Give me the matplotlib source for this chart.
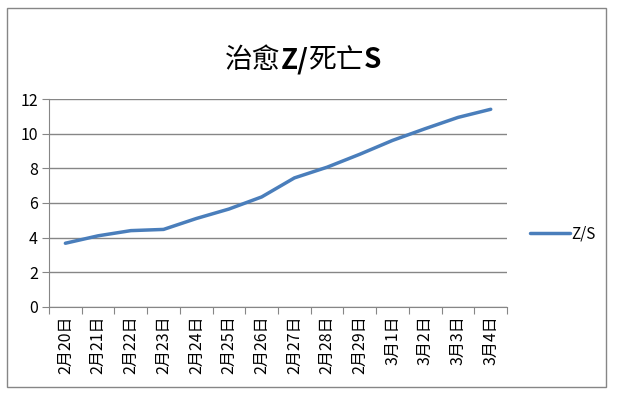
import matplotlib
matplotlib.use("Agg")
import matplotlib.pyplot as plt
from matplotlib.patches import Rectangle

plt.rcParams['font.family'] = ['Noto Sans CJK SC', 'DejaVu Sans']

# data
dates = ["2月20日", "2月21日", "2月22日", "2月23日", "2月24日", "2月25日", "2月26日",
         "2月27日", "2月28日", "2月29日", "3月1日", "3月2日", "3月3日", "3月4日"]
zs = [3.67, 4.1, 4.4, 4.47, 5.1, 5.65, 6.35, 7.45, 8.07, 8.82, 9.62, 10.3, 10.95, 11.42]
# title pieces: CJK regular, latin bold
title_parts = [("治愈", "normal"), ("Z/", "bold"), ("死亡", "normal"), ("S", "bold")]
series_name = "Z/S"

grey = "#868686"
blue = "#4a7ebb"

fig = plt.figure(figsize=(6.19, 4.03), dpi=100)
# outer chart border
fig.patches.append(Rectangle((7 / 619, 1 - 387 / 403), 599 / 619, 379 / 403,
                             transform=fig.transFigure, fill=False,
                             edgecolor=grey, linewidth=1))

ax = fig.add_axes([0.0792, 0.239, 0.740, 0.5147])
x = [i + 0.5 for i in range(len(dates))]
ax.plot(x, zs, color=blue, linewidth=2.5, label=series_name, solid_capstyle="round")

ax.set_xlim(0, len(dates))
ax.set_ylim(0, 12)
ax.set_yticks(range(0, 13, 2))
ax.set_xticks(range(len(dates) + 1))
ax.set_xticklabels([])
ax.set_xticks(x, minor=True)
ax.set_xticklabels(dates, minor=True, rotation=90, fontsize=11.5)
ax.tick_params(axis="x", which="minor", length=0, pad=6)
ax.tick_params(axis="x", which="major", length=5, color=grey)
ax.tick_params(axis="y", length=5, color=grey, labelsize=11.5, pad=3)
ax.grid(axis="y", color=grey, linewidth=1)
ax.set_axisbelow(True)
for s in ["top", "right"]:
    ax.spines[s].set_visible(False)
for s in ["left", "bottom"]:
    ax.spines[s].set_color(grey)

# title assembled from pieces so that only latin part is bold
prev = fig.text(225 / 619, 0.85, title_parts[0][0], ha="left", va="center",
                fontsize=20, fontweight=title_parts[0][1])
for txt, w in title_parts[1:]:
    prev = ax.annotate(txt, xy=(1, 0.5), xycoords=prev, ha="left", va="center",
                       fontsize=20, fontweight=w, annotation_clip=False)

ax.legend(loc="center left", bbox_to_anchor=(1.02, 0.35), frameon=False,
          fontsize=11, handlelength=2.6, handletextpad=0.1)

fig.savefig("out.png", dpi=100)
